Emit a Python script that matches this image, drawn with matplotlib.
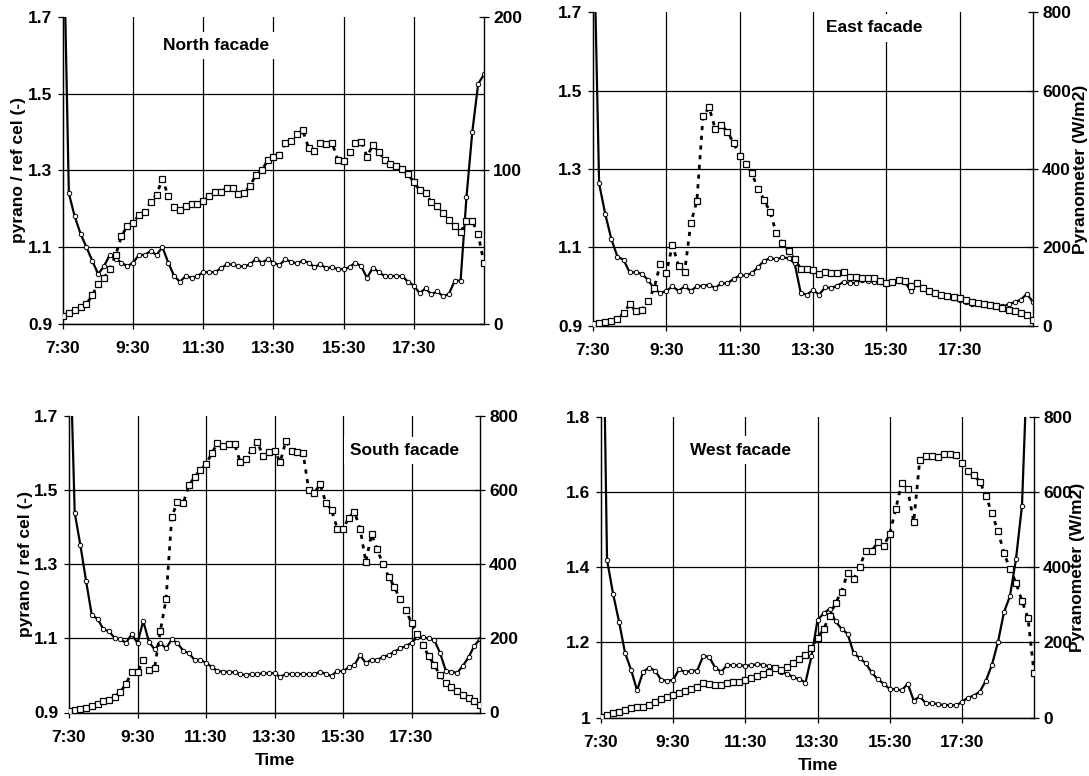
import numpy as np
import matplotlib
matplotlib.use("Agg")
import matplotlib.pyplot as plt

plt.rcParams['font.family'] = ['Liberation Sans', 'DejaVu Sans']
plt.rcParams['font.weight'] = 'bold'
FS = 12.5

# 10-minute samples from 7:30 to 19:30
hours = 7.5 + np.arange(73) / 6.0
tick_hours = [7.5, 9.5, 11.5, 13.5, 15.5, 17.5]
tick_labels = ["7:30", "9:30", "11:30", "13:30", "15:30", "17:30"]

north_ratio = [2.0, 1.24, 1.18, 1.135, 1.10, 1.065, 1.03, 1.05, 1.08, 1.07,
               1.06, 1.05, 1.06, 1.08, 1.08, 1.09, 1.08, 1.10, 1.06, 1.025,
               1.01, 1.025, 1.02, 1.025, 1.035, 1.035, 1.035, 1.045, 1.055, 1.055,
               1.05, 1.05, 1.055, 1.07, 1.06, 1.068, 1.06, 1.053, 1.068, 1.062,
               1.058, 1.065, 1.06, 1.048, 1.056, 1.045, 1.048, 1.043, 1.043, 1.048,
               1.06, 1.05, 1.02, 1.047, 1.035, 1.025, 1.025, 1.025, 1.025, 1.01,
               1.0, 0.98, 0.993, 0.977, 0.985, 0.972, 0.978, 1.013, 1.013, 1.23,
               1.40, 1.525, 1.55]
north_pyr = [5, 7, 9, 11, 13, 18.6, 26, 30, 36, 45,
             57, 64, 66, 71, 73, 79.5, 84, 94.6, 83, 76,
             74, 77, 78, 78, 80, 83, 86, 86, 88.5, 88.5,
             84.5, 85.5, 90, 97, 100, 106.5, 108.6, 110, 117.7, 119,
             123.8, 126, 114.7, 112.5, 117.7, 117.3, 118, 107, 106, 112,
             118, 118.6, 109, 116.6, 112, 107, 104, 103, 100.6, 97.4,
             92.4, 87, 85, 79.5, 77, 72, 67.6, 64, 59.6, 67,
             67, 58.5, 39.5]

east_ratio = [2.0, 1.263, 1.185, 1.121, 1.076, 1.068, 1.036, 1.036, 1.032, 1.017,
              0.994, 0.983, 0.989, 1.000, 0.989, 1.000, 0.989, 1.000, 1.002, 1.004,
              0.996, 1.008, 1.008, 1.019, 1.028, 1.028, 1.034, 1.049, 1.066, 1.072,
              1.069, 1.074, 1.072, 1.059, 0.983, 0.979, 0.991, 0.979, 0.998, 0.996,
              1.002, 1.012, 1.008, 1.009, 1.017, 1.015, 1.011, 1.012, 1.006, 1.011,
              1.015, 1.012, 0.989, 1.006, 0.998, 0.989, 0.983, 0.979, 0.974, 0.970,
              0.966, 0.960, 0.954, 0.955, 0.953, 0.955, 0.953, 0.949, 0.954, 0.960,
              0.966, 0.981, 0.960]
east_pyr = [4, 6, 9, 12, 17, 32, 54, 37, 41, 64,
            95, 157, 135, 206, 153, 138, 261, 319, 534, 557,
            502, 512, 495, 466, 433, 413, 389, 349, 321, 289,
            236, 211, 190, 170, 145, 144, 142, 132, 136, 134,
            134, 136, 125, 123, 122, 121, 122, 115, 108, 111,
            117, 115, 100, 108, 96, 89, 83, 79, 75, 72,
            70, 66, 61, 57, 55, 53, 49, 45, 41, 37,
            32, 26, 14]

south_ratio = [2.0, 1.439, 1.351, 1.254, 1.162, 1.153, 1.125, 1.119, 1.101, 1.097,
               1.088, 1.112, 1.087, 1.147, 1.091, 1.070, 1.088, 1.073, 1.097, 1.087,
               1.067, 1.060, 1.042, 1.042, 1.034, 1.023, 1.012, 1.010, 1.010, 1.008,
               1.003, 1.001, 1.004, 1.004, 1.006, 1.006, 1.006, 0.996, 1.004, 1.004,
               1.004, 1.004, 1.003, 1.003, 1.010, 1.004, 0.998, 1.013, 1.011, 1.022,
               1.028, 1.055, 1.033, 1.043, 1.042, 1.050, 1.055, 1.064, 1.073, 1.079,
               1.088, 1.103, 1.103, 1.100, 1.095, 1.061, 1.013, 1.010, 1.007, 1.026,
               1.049, 1.080, 1.098]
south_pyr = [4, 6, 9, 13, 18, 24, 30, 34, 42, 56,
             77, 110, 108, 141, 116, 121, 220, 305, 528, 568,
             564, 613, 635, 655, 670, 699, 727, 719, 724, 724,
             676, 685, 709, 730, 692, 703, 706, 676, 733, 706,
             703, 700, 601, 593, 616, 565, 546, 496, 494, 526,
             541, 496, 406, 481, 440, 400, 366, 339, 305, 276,
             242, 212, 182, 152, 128, 101, 80, 68, 59, 48,
             38, 30, 21]

west_ratio = [2.5, 1.42, 1.33, 1.255, 1.172, 1.127, 1.072, 1.122, 1.132, 1.125,
              1.100, 1.098, 1.100, 1.129, 1.120, 1.125, 1.125, 1.164, 1.161, 1.132,
              1.122, 1.140, 1.139, 1.139, 1.138, 1.139, 1.142, 1.140, 1.136, 1.133,
              1.122, 1.116, 1.107, 1.102, 1.093, 1.163, 1.259, 1.277, 1.289, 1.256,
              1.236, 1.223, 1.172, 1.158, 1.145, 1.120, 1.102, 1.090, 1.076, 1.075,
              1.072, 1.090, 1.045, 1.056, 1.038, 1.038, 1.036, 1.033, 1.033, 1.032,
              1.041, 1.053, 1.058, 1.069, 1.098, 1.140, 1.200, 1.280, 1.323, 1.421,
              1.564, 2.0, 2.5]
west_pyr = [2, 7, 11, 15, 20, 24.5, 27, 29, 33, 40,
            48, 55, 60, 64, 70.5, 75, 82, 93, 89, 86.5,
            87, 91, 94, 95, 100, 104, 110, 116, 122, 131,
            126, 134, 144, 156, 166, 184, 211, 235, 270, 305,
            335, 385, 368, 400, 443, 443, 466, 457, 488, 554,
            625, 607, 521, 685, 696, 695, 693, 701, 701, 700,
            677, 657, 645, 628, 590, 544, 496, 439, 395, 359,
            310, 265, 119]

W, H = 1089, 776
fig = plt.figure(figsize=(W / 100, H / 100), dpi=100)
fig.patch.set_facecolor('white')

panels = [
    dict(title="North facade", ratio=north_ratio, pyr=north_pyr,
         px=(63, 16.7, 484, 324), ylim=(0.9, 1.7),
         yticks=[0.9, 1.1, 1.3, 1.5, 1.7], ylabels=["0.9", "1.1", "1.3", "1.5", "1.7"],
         ylim2=(0, 200), yticks2=[0, 100, 200],
         left_label=True, right_label=False, time=False, tpos=(11.87, 1.626), rlx=1.10),
    dict(title="East facade", ratio=east_ratio, pyr=east_pyr,
         px=(593, 12.3, 1033, 325.6), ylim=(0.9, 1.7),
         yticks=[0.9, 1.1, 1.3, 1.5, 1.7], ylabels=["0.9", "1.1", "1.3", "1.5", "1.7"],
         ylim2=(0, 800), yticks2=[0, 200, 400, 600, 800],
         left_label=False, right_label=True, time=False, tpos=(15.16, 1.66), rlx=1.108),
    dict(title="South facade", ratio=south_ratio, pyr=south_pyr,
         px=(69, 416, 480, 712.5), ylim=(0.9, 1.7),
         yticks=[0.9, 1.1, 1.3, 1.5, 1.7], ylabels=["0.9", "1.1", "1.3", "1.5", "1.7"],
         ylim2=(0, 800), yticks2=[0, 200, 400, 600, 800],
         left_label=True, right_label=False, time=True, tpos=(17.29, 1.606), rlx=1.10),
    dict(title="West facade", ratio=west_ratio, pyr=west_pyr,
         px=(601, 417, 1034, 717.5), ylim=(1.0, 1.8),
         yticks=[1.0, 1.2, 1.4, 1.6, 1.8], ylabels=["1", "1.2", "1.4", "1.6", "1.8"],
         ylim2=(0, 800), yticks2=[0, 200, 400, 600, 800],
         left_label=False, right_label=True, time=True, tpos=(11.36, 1.712), rlx=1.10),
]

for p in panels:
    x0, y0, x1, y1 = p['px']
    ax = fig.add_axes([x0 / W, 1 - y1 / H, (x1 - x0) / W, (y1 - y0) / H])
    ax.set_xlim(7.5, 19.5)
    ax.set_ylim(*p['ylim'])
    ax.set_xticks(tick_hours)
    ax.set_xticklabels(tick_labels, fontsize=FS, fontweight='bold')
    ax.set_yticks(p['yticks'])
    ax.set_yticklabels(p['ylabels'], fontsize=FS, fontweight='bold')
    ax.set_axisbelow(True)
    ax.grid(True, color='black', linewidth=0.9)
    ax.yaxis.get_gridlines()[-1].set_visible(False)
    ax.xaxis.get_gridlines()[0].set_visible(False)
    ax.tick_params(axis='x', direction='out', length=3.5, width=0.9, pad=9)
    ax.tick_params(axis='y', direction='out', length=3.5, width=0.9, pad=4)
    for s in ['top', 'right']:
        ax.spines[s].set_visible(False)
    for s in ['left', 'bottom']:
        ax.spines[s].set_linewidth(1.0)

    ax.plot(hours, p['ratio'], color='black', lw=1.6, marker='o', ms=3.2,
            mfc='white', mec='black', mew=0.7, zorder=3)

    ax.text(p['tpos'][0], p['tpos'][1], p['title'], fontsize=FS, fontweight='bold',
            ha='center', va='center', zorder=2.5,
            bbox=dict(boxstyle='square,pad=0.35', fc='white', ec='none'))

    if p['left_label']:
        ax.set_ylabel("pyrano / ref cel (-)", fontsize=FS, fontweight='bold')
        ax.yaxis.label.set_verticalalignment('center')
        ax.yaxis.set_label_coords(-0.105, 0.5)
    if p['time']:
        ax.set_xlabel("Time", fontsize=FS, fontweight='bold', labelpad=6)

    ax2 = ax.twinx()
    ax2.set_ylim(*p['ylim2'])
    ax2.set_yticks(p['yticks2'])
    ax2.set_yticklabels([str(v) for v in p['yticks2']], fontsize=FS, fontweight='bold')
    ax2.tick_params(axis='y', direction='inout', length=7, width=0.9, pad=3)
    ax2.spines['top'].set_visible(False)
    ax2.spines['right'].set_linewidth(1.0)
    ax2.plot(hours, p['pyr'], color='black', lw=2.0, ls=(0, (1.5, 2.0)),
             marker='s', ms=4.2, mfc='white', mec='black', mew=0.9, zorder=3)
    if p['right_label']:
        ax2.set_ylabel("Pyranometer (W/m2)", fontsize=FS, fontweight='bold')
        ax2.yaxis.label.set_verticalalignment('center')
        ax2.yaxis.set_label_coords(p['rlx'], 0.5)

fig.savefig("out.png", dpi=100, facecolor='white')
